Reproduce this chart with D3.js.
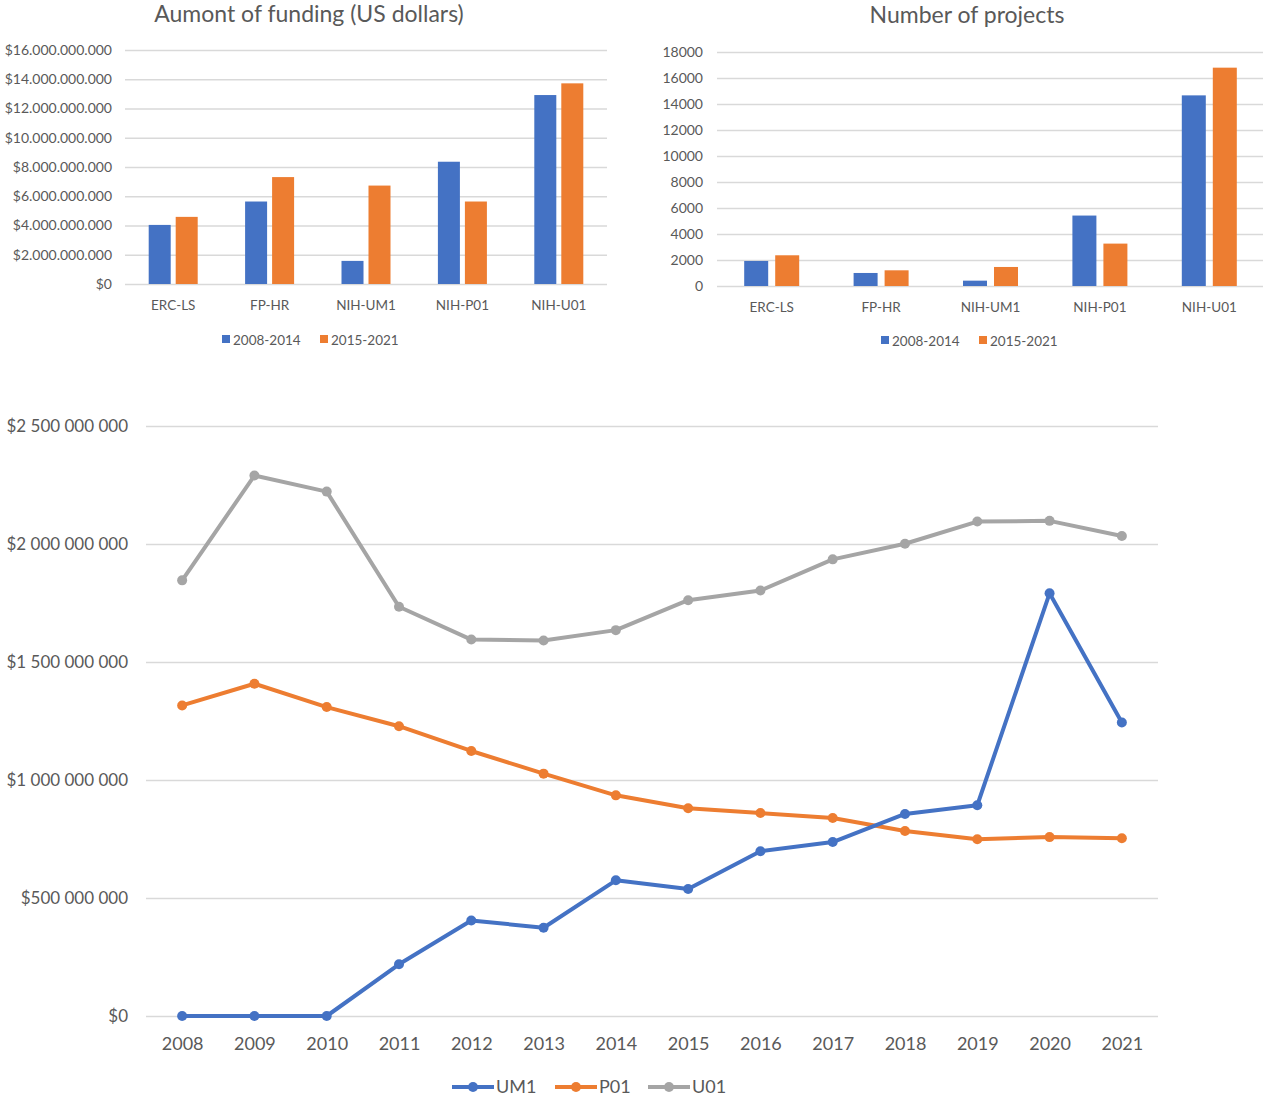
<!DOCTYPE html>
<html>
<head>
  <script src="https://d3js.org/d3.v7.min.js"></script>
  <style>
    body { margin: 0; background: #fff; overflow: hidden; }
    text { font-family: Lato, "Open Sans", sans-serif; fill: #595959; }
  </style>
  <title>Funding</title>
</head>
<body>
  <script>
    // data
    const categories = ["ERC-LS", "FP-HR", "NIH-UM1", "NIH-P01", "NIH-U01"];
    const periods = ["2008-2014", "2015-2021"];
    const funding0814 = [4.04e9, 5.64e9, 1.58e9, 8.36e9, 12.92e9];
    const funding1521 = [4.59e9, 7.31e9, 6.73e9, 5.64e9, 13.72e9];
    const projects0814 = [1926, 1002, 411, 5419, 14664];
    const projects1521 = [2363, 1207, 1464, 3261, 16795];

    const years = [2008, 2009, 2010, 2011, 2012, 2013, 2014, 2015, 2016, 2017, 2018, 2019, 2020, 2021];
    const um1 = [0, 0, 0, 0.219e9, 0.405e9, 0.374e9, 0.575e9, 0.538e9, 0.698e9, 0.737e9, 0.856e9, 0.893e9, 1.791e9, 1.244e9];
    const p01 = [1.316e9, 1.408e9, 1.309e9, 1.228e9, 1.123e9, 1.027e9, 0.935e9, 0.880e9, 0.860e9, 0.839e9, 0.784e9, 0.749e9, 0.758e9, 0.753e9];
    const u01 = [1.846e9, 2.290e9, 2.222e9, 1.734e9, 1.595e9, 1.591e9, 1.635e9, 1.762e9, 1.803e9, 1.935e9, 2.001e9, 2.095e9, 2.098e9, 2.034e9];

    const blue = "#4472C4", orange = "#ED7D31", gray = "#A5A5A5";

    const svg = d3.select("body").append("svg")
      .attr("width", 1263)
      .attr("height", 1102);

    // grouped bar chart helper
    function barChart(opt) {
      const g = svg.append("g");
      const x0 = d3.scaleBand().domain(categories).range([opt.left, opt.right]);
      const y = d3.scaleLinear().domain([0, opt.max]).range([opt.bottom, opt.top]);

      // gridlines + y labels
      const yAxis = g.append("g")
        .attr("transform", "translate(" + opt.left + ",0)")
        .call(d3.axisLeft(y).tickValues(d3.range(0, opt.max + 1, opt.step))
          .tickSize(-(opt.right - opt.left)).tickPadding(opt.pad).tickFormat(opt.fmt));
      yAxis.select(".domain").remove();
      yAxis.selectAll("line").attr("stroke", "#d9d9d9").attr("stroke-width", 1.3);
      yAxis.selectAll("text").style("font-size", opt.yfs + "px").attr("fill", "#595959");

      // x labels
      const xAxis = g.append("g")
        .attr("transform", "translate(0," + opt.bottom + ")")
        .call(d3.axisBottom(x0).tickSize(0).tickPadding(opt.xpad));
      xAxis.select(".domain").remove();
      xAxis.selectAll("text").style("font-size", opt.fs + "px").attr("fill", "#595959");

      const data = categories.map((c, i) => ({ c: c, v: [opt.a[i], opt.b[i]] }));
      const w = opt.barGroup;
      data.forEach(function (d) {
        const cx = x0(d.c) + x0.bandwidth() / 2;
        const x1 = d3.scaleBand().domain([0, 1]).range([cx - w / 2, cx + w / 2]).paddingInner(opt.inner);
        g.selectAll(null)
          .data(d.v)
          .enter()
          .append("rect")
          .attr("x", (v, j) => x1(j))
          .attr("y", v => y(v))
          .attr("width", x1.bandwidth())
          .attr("height", v => opt.bottom - y(v))
          .attr("fill", (v, j) => j === 0 ? blue : orange);
      });

      // title
      g.append("text")
        .attr("x", opt.titleX)
        .attr("y", opt.titleY)
        .attr("text-anchor", "middle")
        .style("font-size", "23px")
        .attr("fill", "#595959")
        .text(opt.title);

      // legend
      const lg = g.append("g");
      periods.forEach(function (p, i) {
        lg.append("rect")
          .attr("x", opt.legX[i])
          .attr("y", opt.legY - 5)
          .attr("width", 8)
          .attr("height", 8)
          .attr("fill", i === 0 ? blue : orange);
        lg.append("text")
          .attr("x", opt.legX[i] + 11)
          .attr("y", opt.legY)
          .attr("dy", "0.35em")
          .style("font-size", opt.fs + "px")
          .attr("fill", "#595959")
          .text(p);
      });
    }

    const dotFmt = d => "$" + d3.format(",")(d).replace(/,/g, ".");

    barChart({
      left: 125, right: 607, top: 50, bottom: 284,
      max: 16e9, step: 2e9, fmt: dotFmt, pad: 13, xpad: 16, fs: 13.5, yfs: 14,
      a: funding0814, b: funding1521, barGroup: 49, inner: 0.185,
      title: "Aumont of funding (US dollars)", titleX: 309, titleY: 22,
      legX: [222, 320], legY: 340
    });

    barChart({
      left: 717, right: 1264, top: 52, bottom: 286,
      max: 18000, step: 2000, fmt: d => d, pad: 14, xpad: 16, fs: 13.5, yfs: 14,
      a: projects0814, b: projects1521, barGroup: 55, inner: 0.226,
      title: "Number of projects", titleX: 967, titleY: 23,
      legX: [881, 979], legY: 341
    });

    // line chart
    const lc = { left: 146, right: 1158, top: 426, bottom: 1016 };
    const x = d3.scalePoint().domain(years).range([lc.left, lc.right]).padding(0.5);
    const y = d3.scaleLinear().domain([0, 2.5e9]).range([lc.bottom, lc.top]);

    const spaceFmt = d => "$" + d3.format(",")(d).replace(/,/g, " ");

    const yAxis = svg.append("g")
      .attr("transform", "translate(" + lc.left + ",0)")
      .call(d3.axisLeft(y).tickValues(d3.range(0, 2.5e9 + 1, 5e8))
        .tickSize(-(lc.right - lc.left)).tickPadding(18).tickFormat(spaceFmt));
    yAxis.select(".domain").remove();
    yAxis.selectAll("line").attr("stroke", "#d9d9d9").attr("stroke-width", 1.5);
    yAxis.selectAll("text").style("font-size", "17px").attr("fill", "#595959");

    const xAxis = svg.append("g")
      .attr("transform", "translate(0," + lc.bottom + ")")
      .call(d3.axisBottom(x).tickSize(0).tickPadding(21));
    xAxis.select(".domain").remove();
    xAxis.selectAll("text").style("font-size", "18px").attr("fill", "#595959");

    const series = [
      { name: "UM1", values: um1, color: blue },
      { name: "P01", values: p01, color: orange },
      { name: "U01", values: u01, color: gray }
    ];

    const line = d3.line()
      .x((d, i) => x(years[i]))
      .y(d => y(d));

    // draw U01 first so UM1 sits on top like the original
    series.slice().reverse().forEach(function (s) {
      svg.append("path")
        .datum(s.values)
        .attr("fill", "none")
        .attr("stroke", s.color)
        .attr("stroke-width", 4)
        .attr("stroke-linejoin", "round")
        .attr("d", line);
      svg.selectAll(null)
        .data(s.values)
        .enter()
        .append("circle")
        .attr("cx", (d, i) => x(years[i]))
        .attr("cy", d => y(d))
        .attr("r", 5)
        .attr("fill", s.color);
    });

    // legend
    const legX = [452, 555, 648];
    series.forEach(function (s, i) {
      const lg = svg.append("g").attr("transform", "translate(" + legX[i] + ",1087)");
      lg.append("line")
        .attr("x1", 0).attr("x2", 42)
        .attr("stroke", s.color)
        .attr("stroke-width", 4);
      lg.append("circle").attr("cx", 21).attr("r", 5).attr("fill", s.color);
      lg.append("text")
        .attr("x", 44)
        .attr("dy", "0.35em")
        .style("font-size", "18px")
        .attr("fill", "#595959")
        .text(s.name);
    });
  </script>
</body>
</html>
